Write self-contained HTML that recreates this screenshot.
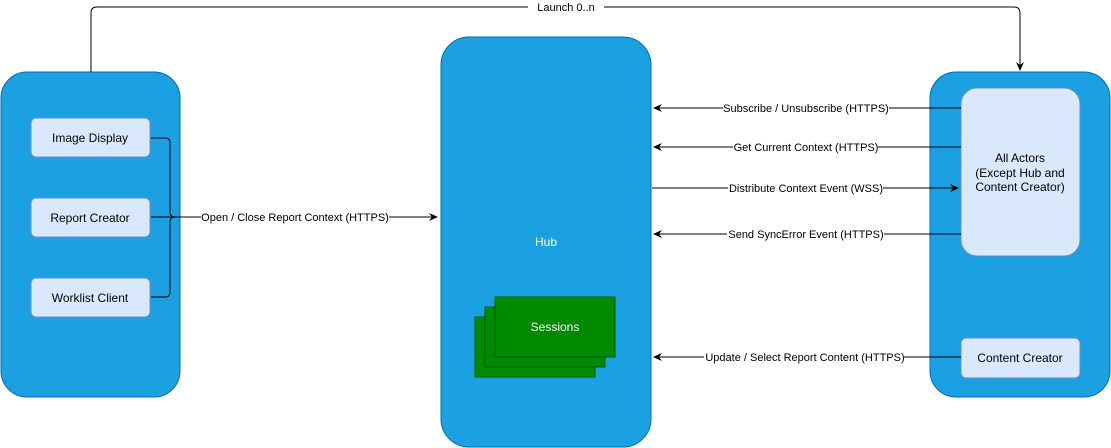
<!DOCTYPE html>
<html><head><meta charset="utf-8"><style>
html,body{margin:0;padding:0;background:#fff;}
svg{display:block;font-family:"Liberation Sans",Arial,sans-serif;}
</style></head><body>
<svg width="1111" height="448" viewBox="0 0 1111 448" xmlns="http://www.w3.org/2000/svg">
<defs>
<marker id="a" markerWidth="10" markerHeight="10" refX="8" refY="5" orient="auto" markerUnits="userSpaceOnUse">
<path d="M0,1 L9,5 L0,9 L3,5 Z" fill="#000"/></marker>
</defs>
<rect x="1" y="72" width="179" height="325" rx="26" fill="#1ba1e2" stroke="#006eaf"/>
<rect x="441" y="37" width="210" height="410" rx="28" fill="#1ba1e2" stroke="#006eaf"/>
<rect x="930" y="72" width="180" height="325" rx="26" fill="#1ba1e2" stroke="#006eaf"/>
<g fill="#dae8fc" stroke="#6c8ebf">
<rect x="31" y="118" width="119" height="39" rx="5"/>
<rect x="31" y="198" width="119" height="39" rx="5"/>
<rect x="31" y="278" width="119" height="39" rx="5"/>
<rect x="961" y="88" width="119" height="168" rx="16"/>
<rect x="961" y="338" width="119" height="40" rx="5"/>
</g>
<g font-size="12" text-anchor="middle" fill="#000">
<text x="90" y="142">Image Display</text>
<text x="90" y="222">Report Creator</text>
<text x="90" y="302">Worklist Client</text>
<text x="1020" y="162">All Actors</text>
<text x="1020" y="177">(Except Hub and</text>
<text x="1020" y="191">Content Creator)</text>
<text x="1020" y="362">Content Creator</text>
</g>
<g fill="#008a00" stroke="#005700">
<rect x="475" y="317" width="120" height="60"/>
<rect x="485" y="307" width="120" height="60"/>
<rect x="495" y="297" width="120" height="60"/>
</g>
<text x="555" y="331" font-size="12" fill="#fff" text-anchor="middle">Sessions</text>
<text x="546" y="246" font-size="12" fill="#fff" text-anchor="middle">Hub</text>
<g fill="none" stroke="#000" stroke-width="1">
<path d="M151,138 H165 Q170,138 170,143 V212 Q170,217 175,217 M151,217 H437" marker-end="url(#a)"/>
<path d="M151,297 H165 Q170,297 170,292 V222 Q170,217 175,217"/>
<path d="M91,72 V13 Q91,7 97,7 H1014 Q1020,7 1020,13 V70" marker-end="url(#a)"/>
<path d="M961,108 H654" marker-end="url(#a)"/>
<path d="M961,147 H654" marker-end="url(#a)"/>
<path d="M652,188 H958" marker-end="url(#a)"/>
<path d="M961,234 H654" marker-end="url(#a)"/>
<path d="M961,357 H654" marker-end="url(#a)"/>
</g>
<g font-size="11" text-anchor="middle" fill="#000">
<rect x="201" y="210" width="188" height="14" fill="#fff"/>
<text x="295" y="221">Open / Close Report Context (HTTPS)</text>
<rect x="528" y="1" width="76" height="13" fill="#fff"/>
<text x="566" y="11">Launch 0..n</text>
<rect x="723" y="101" width="166" height="14" fill="#fff"/>
<text x="806" y="112">Subscribe / Unsubscribe (HTTPS)</text>
<rect x="733" y="140" width="145" height="14" fill="#fff"/>
<text x="806" y="151">Get Current Context (HTTPS)</text>
<rect x="728" y="181" width="155" height="14" fill="#fff"/>
<text x="806" y="192">Distribute Context Event (WSS)</text>
<rect x="727" y="227" width="157" height="14" fill="#fff"/>
<text x="806" y="238">Send SyncError Event (HTTPS)</text>
<rect x="704" y="350" width="200" height="14" fill="#fff"/>
<text x="805" y="361">Update / Select Report Content (HTTPS)</text>
</g>
</svg>
</body></html>
